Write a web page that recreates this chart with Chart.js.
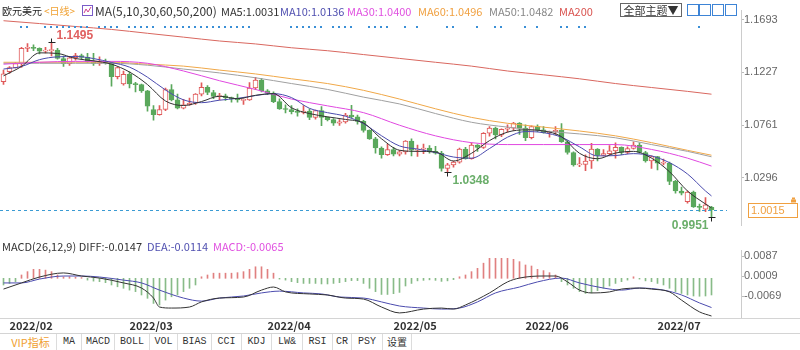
<!DOCTYPE html>
<html>
<head>
<meta charset="utf-8">
<script src="https://cdn.jsdelivr.net/npm/chart.js@4/dist/chart.umd.min.js"></script>
<style>
body{margin:0;width:800px;height:350px;overflow:hidden;background:#fff;position:relative;font-family:"Noto Sans CJK SC",sans-serif;}
canvas{position:absolute;left:0}
#priceChart{top:0}
#macdChart{top:238px}
.t{position:absolute;white-space:nowrap;font-size:11px;line-height:14px}
.hl{position:absolute;left:0;width:800px;height:0;border-top:1px solid #d4d4d4}
.tab{position:absolute;top:334px;height:16px;line-height:16px;text-align:center;font-family:"Liberation Mono","Noto Sans CJK SC",monospace;font-size:10px;color:#333;border-right:1px solid #dcdcdc}
.ic{position:absolute;top:4px;width:10px;height:10px;border:1px solid #3d84d6}
</style>
</head>
<body>
<canvas id="priceChart" width="800" height="232"></canvas>
<canvas id="macdChart" width="800" height="95"></canvas>

<!-- top legend -->
<div class="t" style="left:2px;top:4px;color:#222;font-size:10px">欧元美元</div>
<div class="t" style="left:44px;top:4px;color:#f0a030;font-size:10px">&lt;日线&gt;</div>
<svg style="position:absolute;left:82px;top:5px" width="11" height="11"><rect x="0.5" y="0.5" width="10" height="10" fill="#fff" stroke="#7a5cc8"/><polyline points="2,8 4,4 6,7 9,2" fill="none" stroke="#d04090"/></svg>
<div class="t" style="left:95px;top:4px;color:#333;font-size:12px">MA(5,10,30,60,50,200)</div>
<div class="t" id="lg5" style="left:221px;top:4px;color:#333"></div>
<div class="t" id="lg10" style="left:280px;top:4px;color:#5050b0"></div>
<div class="t" id="lg30" style="left:347px;top:4px;color:#e050e0"></div>
<div class="t" id="lg60" style="left:418px;top:4px;color:#f0a040"></div>
<div class="t" id="lg50" style="left:489px;top:4px;color:#888"></div>
<div class="t" style="left:559px;top:4px;color:#d9534f">MA200</div>
<div class="t" style="left:620px;top:3px;width:60px;height:12px;line-height:12px;border:1px solid #666;text-align:center;font-size:11px;color:#333">全部主题▼</div>
<div class="ic" style="left:687px"></div>
<div class="ic" style="left:699px"></div>
<div class="ic" style="left:712px"></div>
<div class="ic" style="left:725px"></div>

<!-- macd legend -->
<div class="t" id="lgDiff" style="left:2px;top:239px;color:#333"></div>
<div class="t" id="lgDea" style="left:147px;top:239px;color:#5050b0"></div>
<div class="t" id="lgMacd" style="left:213px;top:239px;color:#e050e0"></div>

<div class="hl" style="top:318px"></div>
<div class="hl" style="top:333px"></div>

<!-- indicator tabs -->
<div class="tab" style="left:5px;width:51px;color:#f0a030;font-family:'Noto Sans CJK SC';font-size:11px">VIP指标</div>
<div class="tab" style="left:57px;width:24px">MA</div>
<div class="tab" style="left:82px;width:32px">MACD</div>
<div class="tab" style="left:115px;width:34px">BOLL</div>
<div class="tab" style="left:150px;width:27px">VOL</div>
<div class="tab" style="left:178px;width:33px">BIAS</div>
<div class="tab" style="left:212px;width:29px">CCI</div>
<div class="tab" style="left:242px;width:29px">KDJ</div>
<div class="tab" style="left:272px;width:30px">LW&amp;</div>
<div class="tab" style="left:303px;width:29px">RSI</div>
<div class="tab" style="left:333px;width:18px">CR</div>
<div class="tab" style="left:352px;width:30px">PSY</div>
<div class="tab" style="left:383px;width:28px;font-family:'Noto Sans CJK SC'">设置</div>

<script>
// daily candles, 2022/01/31 .. 2022/07/14
const open = [1.1145,1.1234,1.1270,1.1305,1.1440,1.1450,1.1440,1.1415,1.1420,1.1425,
  1.1350,1.1305,1.1357,1.1375,1.1360,1.1320,1.1306,1.1310,1.1308,1.1190,
  1.1125,1.1210,1.1125,1.1120,1.1065,1.0900,1.0855,1.0900,1.1075,1.0985,
  1.0912,1.0940,1.0955,1.1035,1.1095,1.1050,1.1015,1.1020,1.1005,1.0995,
  1.0980,1.0985,1.1090,1.1160,1.1065,1.1045,1.0970,1.0905,1.0900,1.0880,
  1.0875,1.0885,1.0830,1.0890,1.0830,1.0810,1.0780,1.0790,1.0850,1.0835,
  1.0795,1.0715,1.0640,1.0560,1.0500,1.0545,1.0505,1.0525,1.0620,1.0540,
  1.0550,1.0560,1.0530,1.0515,1.0380,1.0410,1.0435,1.0550,1.0465,1.0585,
  1.0565,1.0690,1.0735,1.0675,1.0725,1.0735,1.0780,1.0735,1.0650,1.0750,
  1.0720,1.0695,1.0705,1.0715,1.0615,1.0520,1.0410,1.0415,1.0445,1.0550,
  1.0495,1.0510,1.0535,1.0565,1.0520,1.0555,1.0585,1.0520,1.0445,1.0485,
  1.0425,1.0425,1.0265,1.0180,1.0085,1.0170,1.0040,1.0020,1.0035];
const high = [1.1248,1.1280,1.1315,1.1450,1.1483,1.1470,1.1445,1.1448,1.1495,1.1440,
  1.1372,1.1366,1.1395,1.1390,1.1395,1.1395,1.1365,1.1345,1.1320,1.1275,
  1.1240,1.1233,1.1140,1.1125,1.1070,1.0935,1.0935,1.1090,1.1120,1.1035,
  1.0990,1.1000,1.1040,1.1135,1.1110,1.1070,1.1043,1.1035,1.1010,1.1035,
  1.0995,1.1137,1.1185,1.1175,1.1075,1.1055,1.0995,1.0940,1.0935,1.0905,
  1.0935,1.0905,1.0895,1.0925,1.0835,1.0820,1.0810,1.0865,1.0936,1.0850,
  1.0805,1.0720,1.0655,1.0570,1.0593,1.0565,1.0540,1.0625,1.0640,1.0585,
  1.0595,1.0580,1.0575,1.0530,1.0425,1.0445,1.0560,1.0565,1.0605,1.0590,
  1.0695,1.0750,1.0745,1.0730,1.0765,1.0787,1.0785,1.0765,1.0755,1.0765,
  1.0750,1.0710,1.0750,1.0775,1.0625,1.0525,1.0475,1.0500,1.0600,1.0555,
  1.0545,1.0580,1.0605,1.0570,1.0570,1.0615,1.0605,1.0530,1.0490,1.0487,
  1.0462,1.0435,1.0275,1.0215,1.0180,1.0180,1.0065,1.0122,1.0045];
const low = [1.1122,1.1218,1.1265,1.1272,1.1410,1.1420,1.1390,1.1400,1.1373,1.1345,
  1.1280,1.1290,1.1335,1.1342,1.1315,1.1290,1.1290,1.1300,1.1106,1.1170,
  1.1115,1.1090,1.1055,1.1050,1.0885,1.0806,1.0850,1.0890,1.0975,1.0905,
  1.0905,1.0935,1.0945,1.1020,1.1030,1.0995,1.0985,1.0980,1.0965,1.0965,
  1.0945,1.0980,1.1075,1.1055,1.1030,1.0960,1.0900,1.0870,1.0860,1.0840,
  1.0860,1.0810,1.0815,1.0757,1.0800,1.0760,1.0760,1.0780,1.0825,1.0770,
  1.0700,1.0635,1.0515,1.0470,1.0495,1.0490,1.0490,1.0505,1.0490,1.0485,
  1.0510,1.0515,1.0505,1.0355,1.0348,1.0390,1.0425,1.0460,1.0460,1.0530,
  1.0555,1.0665,1.0640,1.0660,1.0700,1.0715,1.0680,1.0625,1.0640,1.0705,
  1.0690,1.0655,1.0680,1.0610,1.0505,1.0400,1.0395,1.0360,1.0380,1.0445,
  1.0490,1.0500,1.0470,1.0500,1.0510,1.0550,1.0515,1.0435,1.0380,1.0365,
  1.0410,1.0235,1.0160,1.0145,1.0072,1.0035,1.0000,0.9998,0.9951];
const close = [1.1215,1.1270,1.1305,1.1440,1.1450,1.1440,1.1415,1.1420,1.1425,1.1350,
  1.1305,1.1357,1.1375,1.1360,1.1320,1.1306,1.1310,1.1308,1.1190,1.1270,
  1.1210,1.1125,1.1120,1.1065,1.0930,1.0855,1.0900,1.1075,1.0985,1.0912,
  1.0940,1.0955,1.1035,1.1095,1.1050,1.1015,1.1020,1.1005,1.0995,1.0985,
  1.0985,1.1090,1.1160,1.1065,1.1045,1.0970,1.0905,1.0900,1.0880,1.0875,
  1.0885,1.0830,1.0890,1.0830,1.0810,1.0780,1.0790,1.0850,1.0835,1.0795,
  1.0715,1.0640,1.0560,1.0500,1.0545,1.0505,1.0525,1.0620,1.0540,1.0550,
  1.0560,1.0530,1.0515,1.0380,1.0410,1.0435,1.0550,1.0465,1.0585,1.0565,
  1.0690,1.0735,1.0675,1.0725,1.0735,1.0780,1.0735,1.0650,1.0750,1.0720,
  1.0695,1.0705,1.0715,1.0615,1.0520,1.0410,1.0415,1.0445,1.0550,1.0495,
  1.0510,1.0535,1.0565,1.0520,1.0555,1.0585,1.0520,1.0445,1.0485,1.0425,
  1.0425,1.0265,1.0180,1.0160,1.0170,1.0040,1.0035,1.0058,1.0015];

// moving averages
const fastIdx = [0,3,6,9,12,15,18,21,24,27,30,33,36,39,42,45,48,51,54,57,60,63,66,69,72,75,78,81,84,87,90,93,96,99,102,105,108,111,114,117,118];
const ma5 = [1.1197,1.1280,1.1400,1.1395,1.1350,1.1330,1.1300,1.1231,1.1120,1.0975,1.0935,1.0970,1.1017,1.0995,1.1025,1.1040,1.0915,1.0864,1.0835,1.0812,
  1.0780,1.0641,1.0540,1.0530,1.0525,1.0445,1.0513,1.0625,1.0700,1.0720,1.0710,1.0660,1.0513,1.0465,1.0515,1.0530,1.0470,1.0350,1.0180,1.0065,1.0031];
const ma10 = [1.1257,1.1280,1.1340,1.1365,1.1368,1.1350,1.1315,1.1274,1.1185,1.1072,1.0985,1.0960,1.0982,1.0998,1.1023,1.1040,1.1005,1.0910,1.0872,1.0840,
  1.0775,1.0668,1.0578,1.0550,1.0520,1.0480,1.0470,1.0555,1.0655,1.0705,1.0695,1.0655,1.0570,1.0490,1.0493,1.0510,1.0490,1.0430,1.0330,1.0180,1.0136];
const slowIdx = [0,6,12,18,24,30,36,42,48,54,60,66,72,78,84,90,96,102,108,114,118];
const ma30 = [1.1300,1.1317,1.1325,1.1325,1.1308,1.1240,1.1154,1.1077,1.0992,1.0932,1.0872,1.0761,1.0667,1.0607,1.0590,1.0590,1.0590,1.0590,1.0547,1.0470,1.0400];
const ma60 = [1.1317,1.1317,1.1317,1.1317,1.1300,1.1283,1.1248,1.1214,1.1171,1.1129,1.1069,1.0992,1.0906,1.0830,1.0778,1.0744,1.0710,1.0667,1.0607,1.0539,1.0496];
const ma50 = [1.1308,1.1308,1.1308,1.1308,1.1291,1.1257,1.1223,1.1180,1.1129,1.1077,1.1009,1.0949,1.0864,1.0787,1.0744,1.0710,1.0684,1.0650,1.0590,1.0530,1.0482];
const ma200 = [1.1684,1.1659,1.1633,1.1607,1.1573,1.1539,1.1505,1.1479,1.1445,1.1419,1.1385,1.1351,1.1317,1.1283,1.1240,1.1206,1.1171,1.1129,1.1094,1.1060,1.1035];

// MACD panel
const macdHist = [-0.0026,-0.0020,-0.0013,
  0.0013,0.0026,0.0035,0.0035,0.0032,0.0026,0.0013,0.0006,0.0006,0.0004,0.0003,
  -0.0007,-0.0011,-0.0013,-0.0017,-0.0026,-0.0033,-0.0039,-0.0046,-0.0052,-0.0065,-0.0078,-0.0098,-0.0104,-0.0085,-0.0072,-0.0065,-0.0052,-0.0039,-0.0026,
  0.0006,0.0013,0.0020,0.0020,0.0020,0.0020,0.0022,0.0026,0.0035,0.0045,0.0045,0.0035,0.0020,
  -0.0003,-0.0007,-0.0013,-0.0017,-0.0020,-0.0020,-0.0020,-0.0022,-0.0022,-0.0020,-0.0017,-0.0013,-0.0009,-0.0009,-0.0020,-0.0039,-0.0052,-0.0063,-0.0063,-0.0060,-0.0055,
  -0.0030,-0.0020,-0.0010,-0.0008,-0.0006,-0.0008,-0.0012,-0.0010,-0.0005,
  0.0006,0.0013,0.0026,0.0039,0.0059,0.0078,0.0078,0.0078,0.0078,0.0074,0.0065,0.0052,0.0048,0.0035,0.0030,0.0022,0.0013,
  -0.0013,-0.0026,-0.0039,-0.0052,-0.0059,-0.0057,-0.0048,-0.0039,-0.0030,-0.0020,-0.0013,-0.0007,
  0.0006,-0.0003,-0.0010,-0.0013,
  -0.0020,-0.0026,-0.0039,-0.0052,-0.0059,-0.0065,-0.0069,-0.0070,-0.0069,-0.0065];
const diffIdx = [0,3,6,10,13,16,20,23,25,26,28,31,33,36,40,43,45,47,51,54,57,60,63,66,70,73,75,77,81,84,86,90,92,94,96,98,101,103,106,108,111,113,116,118];
const diff = [-0.0042,-0.0018,0.0005,0.0021,0.0009,0.0001,-0.0018,-0.0038,-0.0077,-0.0112,-0.0116,-0.0112,-0.0092,-0.0077,-0.0073,-0.0046,-0.0034,-0.0053,-0.0061,-0.0065,
  -0.0077,-0.0081,-0.0112,-0.0135,-0.0120,-0.0116,-0.0120,-0.0104,-0.0057,-0.0014,0.0001,0.0009,0.0009,-0.0014,-0.0046,-0.0057,-0.0053,-0.0042,-0.0038,-0.0042,
  -0.0053,-0.0085,-0.0131,-0.0147];
const deaIdx = [0,3,6,10,13,16,20,23,26,30,33,36,40,43,46,50,53,56,60,63,66,70,73,76,79,82,86,89,93,96,100,103,106,110,113,116,118];
const dea = [-0.0018,-0.0018,-0.0003,0.0009,0.0009,0.0005,-0.0007,-0.0018,-0.0046,-0.0077,-0.0089,-0.0077,-0.0069,-0.0057,-0.0050,-0.0057,-0.0061,-0.0073,-0.0077,-0.0092,
  -0.0108,-0.0116,-0.0120,-0.0116,-0.0092,-0.0057,-0.0034,-0.0014,0.0001,-0.0018,-0.0038,-0.0046,-0.0038,-0.0046,-0.0065,-0.0096,-0.0114];

// axes, labels and markers
const priceTicks = [1.1693, 1.1227, 1.0761, 1.0296];
const macdTicks = [0.0087, 0.0009, -0.0069];
const monthIdx = [1, 21, 44, 65, 87, 109];
const monthLabels = ['2022/02', '2022/03', '2022/04', '2022/05', '2022/06', '2022/07'];
const signalIdx = [3,4,7,8,9,10,11,12,13,14,16,17,18,19,21,22,23,24,25,27,28,29,30,31,32,33,34,35,36,37,38,39,40,41,
  48,49,50,51,52,53,55,56,57,58,61,62,63,64,67,69,74,75,79,82,83,87,89,93,94,96,97,116];
const markIdx = [8, 74, 118];
const markSide = ['high', 'low', 'low'];

const UP = '#e05a5a', DOWN = '#5aa85c';
const FONT = '"Liberation Sans","Noto Sans CJK SC",sans-serif';
const CJK = '"Noto Sans CJK SC",sans-serif';
const X_MIN = -0.5 - 1 / 12, X_MAX = X_MIN + 741 / 6;

const n = close.length;
const idx = close.map((_, i) => i);
const isUp = idx.map(i => close[i] >= open[i]);
const pts = (xs, ys) => xs.map((x, k) => ({x: x, y: ys[k]}));
const last = a => a[a.length - 1];

document.getElementById('lg5').textContent = 'MA5:' + last(ma5).toFixed(4);
document.getElementById('lg10').textContent = 'MA10:' + last(ma10).toFixed(4);
document.getElementById('lg30').textContent = 'MA30:' + last(ma30).toFixed(4);
document.getElementById('lg60').textContent = 'MA60:' + last(ma60).toFixed(4);
document.getElementById('lg50').textContent = 'MA50:' + last(ma50).toFixed(4);
document.getElementById('lgDiff').textContent = 'MACD(26,12,9) DIFF:' + last(diff).toFixed(4);
document.getElementById('lgDea').textContent = 'DEA:' + last(dea).toFixed(4);
document.getElementById('lgMacd').textContent = 'MACD:' + last(macdHist).toFixed(4);

function maLine(xs, ys, color, order) {
  return {type: 'line', data: pts(xs, ys), borderColor: color, borderWidth: 1, pointRadius: 0,
    cubicInterpolationMode: 'monotone', order: order};
}

// signal dots, extreme labels, last price line + box
const priceExtras = {
  id: 'priceExtras',
  afterDatasetsDraw(chart) {
    const {ctx, chartArea: a, scales: {x, y}} = chart;
    ctx.save();
    ctx.fillStyle = '#3a8fd6';
    signalIdx.forEach(i => {
      const px = Math.floor(x.getPixelForValue(i));
      ctx.fillRect(px - 1, a.top + 16, 2, 2);
    });

    ctx.font = 'bold 12px ' + FONT;
    ctx.textBaseline = 'middle';
    markIdx.forEach((i, k) => {
      const hi = markSide[k] === 'high';
      const v = hi ? high[i] : low[i];
      const px = x.getPixelForValue(i);
      const py = Math.round(y.getPixelForValue(v)) + 0.5;
      ctx.strokeStyle = '#222';
      ctx.lineWidth = 1;
      ctx.beginPath();
      ctx.moveTo(px - 3, py); ctx.lineTo(px + 4, py);
      ctx.moveTo(px, py); ctx.lineTo(px, py + (hi ? -4 : 4));
      ctx.stroke();
      ctx.fillStyle = hi ? '#e06060' : '#6aae6a';
      const right = i === n - 1;
      ctx.textAlign = right ? 'right' : 'left';
      ctx.fillText(v.toFixed(4), px + (right ? -3 : 5), py + (hi ? -7 : 8));
    });

    const lp = last(close);
    const ly = Math.round(y.getPixelForValue(lp)) + 0.5;
    ctx.strokeStyle = '#3b9bd3';
    ctx.setLineDash([3, 3]);
    ctx.beginPath();
    ctx.moveTo(a.left, ly); ctx.lineTo(a.right - 14, ly);
    ctx.stroke();
    ctx.setLineDash([]);
    ctx.fillStyle = '#fff';
    ctx.fillRect(a.right + 7, ly - 7, 50, 14);
    ctx.strokeStyle = '#f0a040';
    ctx.strokeRect(a.right + 7.5, ly - 7, 49, 14);
    ctx.fillStyle = '#f0a040';
    ctx.font = '11px ' + FONT;
    ctx.textAlign = 'left';
    ctx.fillText(lp.toFixed(4), a.right + 10, ly + 0.5);
    ctx.fillRect(a.right + 50, ly - 11, 5, 3);
    ctx.fillRect(a.right + 51, ly - 13, 3, 2);
    ctx.restore();
  }
};

const commonX = {type: 'linear', min: X_MIN, max: X_MAX, offset: false};

new Chart(document.getElementById('priceChart'), {
  data: {
    datasets: [
      maLine(fastIdx, ma5, '#333333', 0),
      maLine(fastIdx, ma10, '#4b4bae', 1),
      maLine(slowIdx, ma30, '#e048e0', 2),
      maLine(slowIdx, ma50, '#a0a0a0', 2),
      maLine(slowIdx, ma60, '#f0a848', 2),
      maLine(slowIdx, ma200, '#d9675f', 2),
      {type: 'bar', data: idx.map(i => ({x: i, y: [Math.min(open[i], close[i]), Math.max(open[i], close[i])]})),
        backgroundColor: idx.map(i => isUp[i] ? '#ffffff' : DOWN),
        borderColor: idx.map(i => isUp[i] ? UP : DOWN),
        borderWidth: 1, borderSkipped: false, barThickness: 5, minBarLength: 1, grouped: false, order: 4},
      {type: 'bar', data: idx.map(i => ({x: i, y: [low[i], high[i]]})),
        backgroundColor: idx.map(i => isUp[i] ? UP : DOWN),
        barThickness: 1, grouped: false, order: 5}
    ]
  },
  options: {
    responsive: false, animation: false, events: [],
    layout: {padding: {top: 10, bottom: 0, left: 0, right: 0}},
    plugins: {legend: {display: false}, tooltip: {enabled: false}},
    scales: {
      x: Object.assign({display: false}, commonX),
      y: {
        position: 'right', min: 0.98760, max: 1.17787,
        afterBuildTicks: s => { s.ticks = priceTicks.map(v => ({value: v})); },
        afterFit: s => { s.width = 59; },
        grid: {drawOnChartArea: false, tickLength: 3, color: '#bbbbbb'},
        border: {display: true, color: '#cccccc', dash: [1, 2]},
        ticks: {padding: 0, color: '#666', font: {size: 11, family: FONT}, callback: v => v.toFixed(4)}
      }
    }
  },
  plugins: [priceExtras]
});

new Chart(document.getElementById('macdChart'), {
  data: {
    datasets: [
      {type: 'line', data: pts(diffIdx, diff), borderColor: '#333333', borderWidth: 1, pointRadius: 0, cubicInterpolationMode: 'monotone', order: 0},
      {type: 'line', data: pts(deaIdx, dea), borderColor: '#4b4bae', borderWidth: 1, pointRadius: 0, cubicInterpolationMode: 'monotone', order: 1},
      {type: 'bar', data: idx.map(i => ({x: i, y: macdHist[i]})),
        backgroundColor: macdHist.map(v => v >= 0 ? '#e08080' : '#88bb88'),
        barThickness: 1, grouped: false, order: 2}
    ]
  },
  options: {
    responsive: false, animation: false, events: [],
    layout: {padding: {top: 12, bottom: 0, left: 0, right: 0}},
    plugins: {legend: {display: false}, tooltip: {enabled: false}},
    scales: {
      x: Object.assign({
        afterBuildTicks: s => { s.ticks = monthIdx.map(v => ({value: v})); },
        afterFit: s => { s.height = 15; },
        grid: {drawOnChartArea: false, drawTicks: false},
        border: {display: false},
        ticks: {padding: 1, align: 'start', maxRotation: 0, autoSkip: false, color: '#333',
          font: {size: 11, weight: 'bold', family: CJK}, callback: (v, k) => monthLabels[k]}
      }, commonX),
      y: {
        position: 'right', min: -0.01548, max: 0.01104,
        afterBuildTicks: s => { s.ticks = macdTicks.map(v => ({value: v})); },
        afterFit: s => { s.width = 59; },
        grid: {drawOnChartArea: false, tickLength: 3, color: '#bbbbbb'},
        border: {display: true, color: '#cccccc', dash: [1, 2]},
        ticks: {padding: 0, color: '#666', font: {size: 11, family: FONT}, callback: v => v.toFixed(4)}
      }
    }
  }
});
</script>
</body>
</html>
